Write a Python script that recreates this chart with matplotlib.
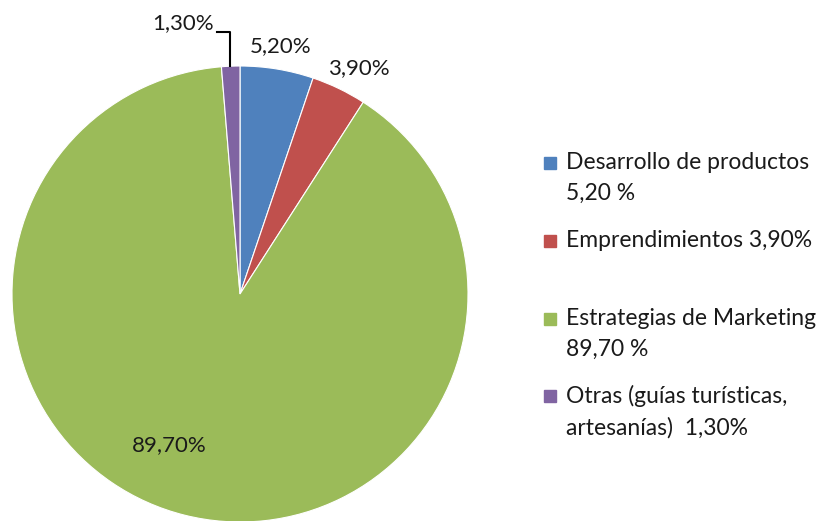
import numpy as np
import matplotlib.pyplot as plt
from matplotlib.patches import Rectangle

plt.rcParams['font.family'] = ['Lato', 'DejaVu Sans']

categories = ["Desarrollo de productos", "Emprendimientos", "Estrategias de Marketing",
              "Otras (guías turísticas,\nartesanías) "]
values = [5.20, 3.90, 89.70, 1.30]
colors = ['#4F81BD', '#C0504D', '#9BBB59', '#8064A2']
legend_labels = ["Desarrollo de productos\n5,20 %", "Emprendimientos 3,90%",
                 "Estrategias de Marketing\n89,70 %", "Otras (guías turísticas,\nartesanías)  1,30%"]

W, H = 822, 521
fig = plt.figure(figsize=(W / 100, H / 100), dpi=100)
cx, cy, R = 240, 294, 228
ax = fig.add_axes([(cx - R) / W, (H - cy - R) / H, 2 * R / W, 2 * R / H])

wedges, _ = ax.pie(values, colors=colors, startangle=90, counterclock=False, radius=1,
                   wedgeprops=dict(edgecolor='white', linewidth=0.8))
ax.set_xlim(-1, 1)
ax.set_ylim(-1, 1)
ax.set_aspect('equal')
ax.axis('off')

def fmt(v):
    return f"{v:.2f}".replace('.', ',') + '%'

fs = 16
# label distance and angle shift per wedge
dist = [1.10, 1.12, 0.73, None]
shift = [0, -2, -11, 0]
for w, v, d, s in zip(wedges, values, dist, shift):
    if d is None:
        continue
    ang = np.deg2rad((w.theta1 + w.theta2) / 2 + s)
    ax.text(d * np.cos(ang), d * np.sin(ang), fmt(v), ha='center', va='center',
            fontsize=fs, color='#1a1a1a')

# small slice with leader line
w = wedges[3]
ang = np.deg2rad((w.theta1 + w.theta2) / 2)
x0 = np.cos(ang)
ax.plot([x0 - 0.005, x0 - 0.005, -0.10], [1.0, 1.148, 1.148], color='black', lw=1.5,
        clip_on=False)
ax.text(-0.115, 1.19, fmt(values[3]), ha='right', va='center', fontsize=fs, color='#1a1a1a')

# legend drawn by hand
ys = [163, 241, 319, 396]
for lab, c, y in zip(legend_labels, colors, ys):
    fig.patches.append(Rectangle((544 / W, (H - y - 6) / H), 12 / W, 12 / H,
                                 transform=fig.transFigure, color=c))
    fig.text(566 / W, (H - y + 11) / H, lab, ha='left', va='top', fontsize=16.5,
             color='#1a1a1a', linespacing=1.55)

fig.savefig('out.png', dpi=100)
